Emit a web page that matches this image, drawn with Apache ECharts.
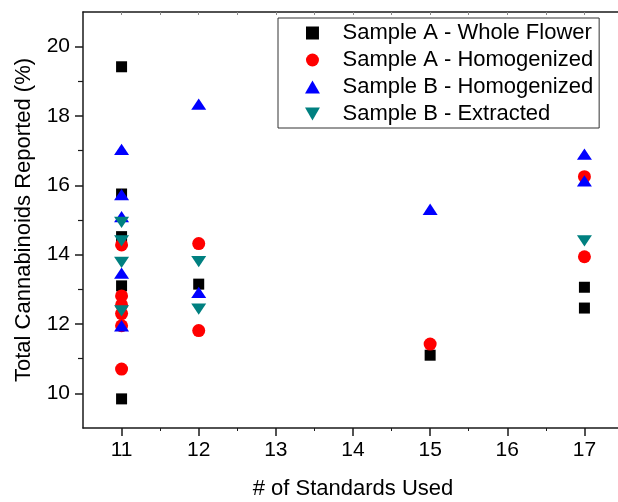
<!DOCTYPE html>
<html>
<head>
<meta charset="utf-8">
<script src="https://cdn.jsdelivr.net/npm/echarts@6/dist/echarts.min.js"></script>
<style>
  html, body { margin: 0; padding: 0; background: #fff; }
  #chart { width: 618px; height: 502px; }
</style>
</head>
<body>
<div id="chart"></div>
<script>
// values: [# of standards, total cannabinoids %]
const wholeFlowerA = [
  [11, 19.42], [11, 15.75], [11, 14.52], [11, 13.1], [11, 9.84],
  [12, 13.15], [15, 11.1], [17, 13.06], [17, 12.46],
]
const homogenizedA = [
  [11, 14.28], [11, 12.81], [11, 12.55], [11, 12.3], [11, 11.95], [11, 10.7],
  [12, 14.32], [12, 11.81], [15, 11.42], [17, 16.25], [17, 13.94],
]
const homogenizedB = [
  [11, 17.04], [11, 15.73], [11, 15.1], [11, 13.47], [11, 11.95],
  [12, 18.34], [12, 12.91], [15, 15.31], [17, 16.9], [17, 16.13],
]
const extractedB = [
  [11, 14.93], [11, 14.4], [11, 13.78], [11, 12.38],
  [12, 13.8], [12, 12.43], [17, 14.4],
]

const xTicks = [11, 12, 13, 14, 15, 16, 17]
const xMinorTicks = [11.5, 12.5, 13.5, 14.5, 15.5, 16.5]
const yTicks = [10, 12, 14, 16, 18, 20]
const yMinorTicks = [11, 13, 15, 17, 19]

const FONT = '"Liberation Sans", Arial, sans-serif'
const AXIS = '#1a1a1a'
const square = 'path://M0,0L10,0L10,10L0,10Z'
const upTriangle = 'path://M5,0L10,8.7L0,8.7Z'
const downTriangle = 'path://M0,0L10,0L5,8.7Z'

const chart = echarts.init(document.getElementById('chart'))

const scatter = (name, data, symbol, size, color) => ({
  name,
  type: 'scatter',
  data,
  symbol,
  symbolSize: size,
  symbolKeepAspect: true,
  itemStyle: { color, opacity: 1 },
  emphasis: { disabled: true },
})

chart.setOption({
  animation: false,
  textStyle: { fontFamily: FONT },
  grid: { left: 83, top: 12, right: -5, bottom: 74, outerBoundsMode: 'none' },
  legend: {
    orient: 'vertical',
    left: 278,
    top: 18,
    padding: [4, 6, 3, 27],
    itemGap: 5,
    itemWidth: 50,
    itemHeight: 13,
    symbolKeepAspect: true,
    borderColor: '#333',
    borderWidth: 1,
    textStyle: { fontSize: 22, lineHeight: 22, color: '#000', fontFamily: FONT },
    data: [
      'Sample A - Whole Flower',
      'Sample A - Homogenized',
      'Sample B - Homogenized',
      'Sample B - Extracted',
    ],
  },
  xAxis: [
    {
      type: 'value',
      min: 10.5,
      max: 17.5,
      position: 'bottom',
      name: '# of Standards Used',
      nameLocation: 'middle',
      nameGap: 50,
      nameTextStyle: { fontSize: 22, color: '#000', fontFamily: FONT },
      axisLine: { show: true, onZero: false, lineStyle: { color: AXIS, width: 1.5 } },
      axisTick: { show: true, length: 8, customValues: xTicks, lineStyle: { color: AXIS, width: 1.5 } },
      axisLabel: { fontSize: 21, color: '#000', margin: 12, customValues: xTicks, fontFamily: FONT },
      splitLine: { show: false },
    },
    {
      // half-unit minor ticks on the bottom axis
      type: 'value',
      min: 10.5,
      max: 17.5,
      position: 'bottom',
      axisLine: { show: false },
      axisTick: { show: true, length: 3, customValues: xMinorTicks, lineStyle: { color: AXIS, width: 1 } },
      axisLabel: { show: false },
      splitLine: { show: false },
    },
    {
      // top frame line
      type: 'value',
      min: 10.5,
      max: 17.5,
      position: 'top',
      axisLine: { show: true, onZero: false, lineStyle: { color: AXIS, width: 1.5 } },
      axisTick: { show: true, inside: true, length: 3, customValues: xTicks.concat(xMinorTicks), lineStyle: { color: '#888', width: 1 } },
      axisLabel: { show: false },
      splitLine: { show: false },
    },
  ],
  yAxis: [
    {
      type: 'value',
      min: 9,
      max: 21,
      position: 'left',
      name: 'Total Cannabinoids Reported (%)',
      nameLocation: 'middle',
      nameGap: 48,
      nameTextStyle: { fontSize: 22, color: '#000', fontFamily: FONT },
      axisLine: { show: true, onZero: false, lineStyle: { color: AXIS, width: 1.5 } },
      axisTick: { show: true, length: 8, customValues: yTicks, lineStyle: { color: AXIS, width: 1.5 } },
      axisLabel: { fontSize: 21, color: '#000', margin: 13, customValues: yTicks, fontFamily: FONT },
      splitLine: { show: false },
    },
    {
      // odd-value minor ticks
      type: 'value',
      min: 9,
      max: 21,
      position: 'left',
      axisLine: { show: false },
      axisTick: { show: true, length: 5, customValues: yMinorTicks, lineStyle: { color: AXIS, width: 1.2 } },
      axisLabel: { show: false },
      splitLine: { show: false },
    },
  ],
  series: [
    scatter('Sample A - Whole Flower', wholeFlowerA, square, 11, '#000000'),
    scatter('Sample A - Homogenized', homogenizedA, 'circle', 13, '#ff0000'),
    scatter('Sample B - Homogenized', homogenizedB, upTriangle, [15, 13], '#0000ff'),
    scatter('Sample B - Extracted', extractedB, downTriangle, [15, 13], '#008080'),
  ],
})
</script>
</body>
</html>
